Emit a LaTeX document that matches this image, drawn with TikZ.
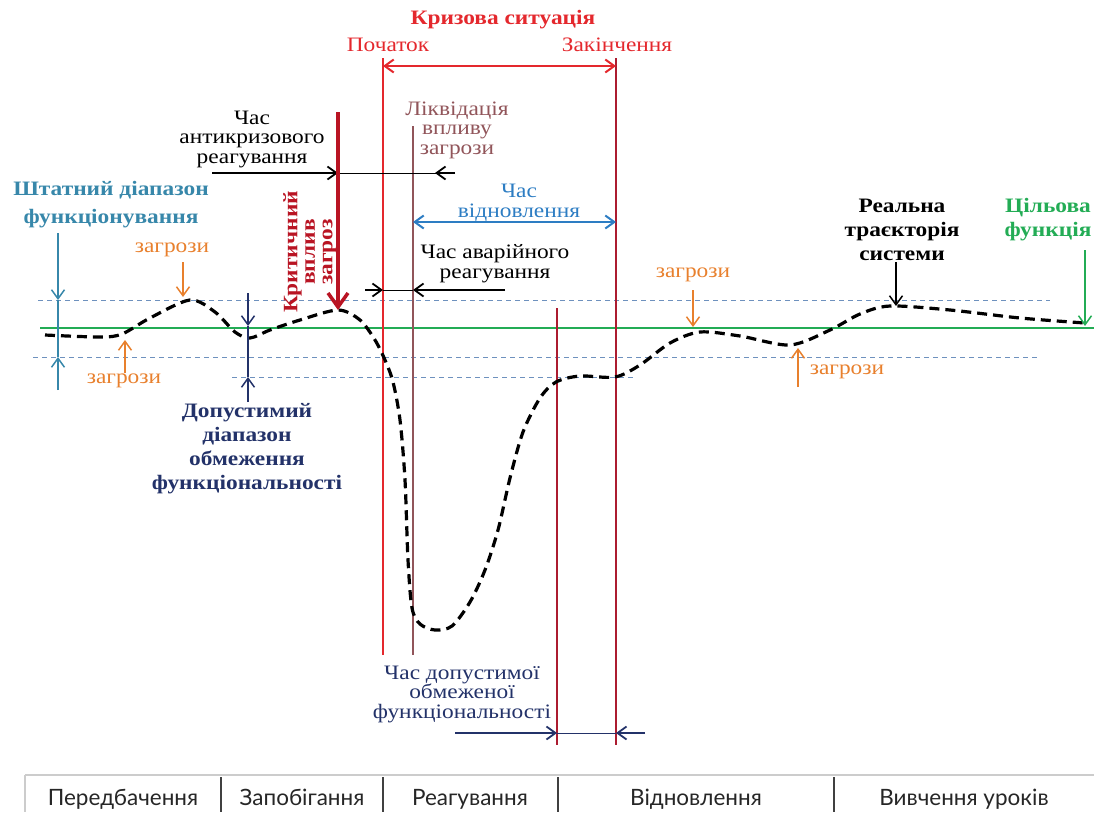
\documentclass[tikz,border=0pt]{standalone}
\usepackage{fontspec}
\setmainfont{Liberation Serif}[FakeStretch=1.14]
\newfontfamily\phasefont{Lato}
\usetikzlibrary{arrows.meta}

\definecolor{crisisred}{RGB}{228,40,45}
\definecolor{endred}{RGB}{172,28,48}
\definecolor{critred}{RGB}{185,20,35}
\definecolor{liqbrown}{RGB}{145,85,90}
\definecolor{threat}{RGB}{232,128,45}
\definecolor{normteal}{RGB}{55,135,170}
\definecolor{limitnavy}{RGB}{35,50,105}
\definecolor{recblue}{RGB}{45,125,195}
\definecolor{targetgreen}{RGB}{35,172,85}
\definecolor{bandblue}{RGB}{110,145,190}

\tikzset{
  lbl/.style={font=\fontsize{20.5}{19.5}\selectfont, align=center, inner sep=0pt},
  blbl/.style={lbl, font=\fontsize{20.5}{24}\selectfont\bfseries},
  tip/.style={-{Straight Barb[length=9pt,width=13pt]}},
  twotip/.style={{Straight Barb[length=9pt,width=13pt]}-{Straight Barb[length=9pt,width=13pt]}},
  band/.style={bandblue, line width=0.9pt, dash pattern=on 5pt off 4pt},
  traj/.style={line width=3.2pt, dash pattern=on 10pt off 6pt},
  phase/.style={font=\phasefont\fontsize{22.5}{24}\selectfont, text=black!85, inner sep=0pt, anchor=base},
}

\begin{document}
\begin{tikzpicture}[x=1pt,y=-1pt]
\useasboundingbox (0,0) rectangle (1094,812);

% bands and target function
\draw[band] (38,300) -- (1050,300); % upper limit
\draw[band] (33,357) -- (1040,357); % lower limit
\draw[band] (232,377) -- (635,377); % allowed limit
\draw[targetgreen, line width=2.2pt] (40,328) -- (1094,328); % target

% crisis lines
\draw[crisisred, line width=1.8pt] (383,58) -- (383,655); % start
\draw[endred, line width=2pt] (616,58) -- (616,745); % end
\draw[liqbrown, line width=1.8pt] (413,126) -- (413,655); % liquidation
\draw[endred, line width=2pt] (557,308) -- (557,745); % limited

% real trajectory
\draw[traj] plot[smooth, tension=0.5] coordinates {(45,335) (100,337) (122,334) (150,318) (190,300) (215,312) (235,332) (250,338) (270,330) (300,320) (338,310) (360,320) (375,340) (385,360) (393,382) (400,420) (405,480) (408,560) (412,608) (420,624) (435,630) (452,626) (470,602) (485,570) (498,530) (510,478) (523,432) (540,398) (556,382) (580,376) (615,377) (640,365) (670,343) (700,332) (740,336) (790,345) (830,330) (860,314) (890,306) (950,310) (1020,318) (1085,323)};

% crisis situation
\node[blbl, text=crisisred] (crisis) at (503,20) {Кризова ситуація};
\node[lbl, text=crisisred] (start) at (388,45) {Початок};
\node[lbl, text=crisisred] (finish) at (617,45) {Закінчення};
\draw[twotip, crisisred, line width=2pt] (383,66) -- (616,66);

% anti-crisis reaction
\node[lbl] (anti) at (252,139) {Час\\антикризового\\реагування};
\draw[tip, line width=1.8pt] (212,173) -- (338,173);
\draw[thin] (338,173) -- (455,173);
\draw[tip, line width=1.8pt] (455,173) -- (435,173);

\node[lbl, text=liqbrown] (liq) at (457,130) {Ліквідація\\впливу\\загрози};

% critical impact
\node[blbl, text=critred, rotate=90, font=\fontsize{20.5}{17.5}\selectfont\bfseries] (crit) at (310,252) {Критичний\\вплив\\загроз};
\draw[critred, line width=3.5pt, -{Straight Barb[length=14pt,width=20pt]}] (338,112) -- (338,310);

% recovery time
\node[lbl, text=recblue] (rec) at (519,203) {Час\\відновлення};
\draw[twotip, recblue, line width=2pt] (413,222) -- (616,222);

% emergency reaction
\node[lbl, font=\fontsize{20.5}{20}\selectfont] (emerg) at (495,264) {Час аварійного\\реагування};
\draw[tip, line width=1.8pt] (365,290) -- (383,290);
\draw[thin] (383,290) -- (413,290);
\draw[tip, line width=1.8pt] (505,290) -- (413,290);

% normal range
\node[blbl, text=normteal, font=\fontsize{20.5}{28}\selectfont\bfseries] (norm) at (111,205) {Штатний діапазон\\функціонування};
\draw[tip, normteal, line width=1.5pt] (58,233) -- (58,300);
\draw[normteal, line width=1.5pt] (58,300) -- (58,357);
\draw[tip, normteal, line width=1.5pt] (58,390) -- (58,357);

% allowed range
\node[blbl, text=limitnavy] (allow) at (247,449) {Допустимий\\діапазон\\обмеження\\функціональності};
\draw[tip, limitnavy, line width=1.5pt] (248,293) -- (248,326);
\draw[limitnavy, line width=1.5pt] (248,326) -- (248,377);
\draw[tip, limitnavy, line width=1.5pt] (248,402) -- (248,377);

% threats
\node[lbl, text=threat] (thrA) at (172,250) {загрози};
\draw[tip, threat, line width=1.5pt] (183,262) -- (183,297);
\node[lbl, text=threat] (thrB) at (124,381) {загрози};
\draw[tip, threat, line width=1.5pt] (125,373) -- (125,340);
\node[lbl, text=threat] (thrC) at (693,275) {загрози};
\draw[tip, threat, line width=1.5pt] (693,290) -- (693,327);
\node[lbl, text=threat] (thrD) at (847,372) {загрози};
\draw[tip, threat, line width=1.5pt] (798,387) -- (798,348);

% real trajectory and target labels
\node[blbl] (real) at (902,230) {Реальна\\траєкторія\\системи};
\draw[tip, line width=1.5pt] (896,262) -- (896,306);
\node[blbl, text=targetgreen] (target) at (1048,220) {Цільова\\функція};
\draw[tip, targetgreen, line width=1.5pt] (1085,250) -- (1085,326);

% limited functionality time
\node[lbl, text=limitnavy] (ltime) at (462,694) {Час допустимої\\обмеженої\\функціональності};
\draw[tip, limitnavy, line width=1.8pt] (455,733) -- (557,733);
\draw[thin, limitnavy] (557,733) -- (616,733);
\draw[tip, limitnavy, line width=1.8pt] (645,733) -- (616,733);

% phases table
\draw[black!20, line width=1.5pt] (25,775) -- (1094,775);
\draw[black!20, line width=1.5pt] (25,775) -- (25,812);
\foreach \sx in {221,383,558,834} \draw[black!75, line width=1.2pt] (\sx,777) -- (\sx,812);
\node[phase] (ph1) at (123,805) {Передбачення};
\node[phase] (ph2) at (302,805) {Запобігання};
\node[phase] (ph3) at (470,805) {Реагування};
\node[phase] (ph4) at (696,805) {Відновлення};
\node[phase] (ph5) at (964,805) {Вивчення уроків};

\end{tikzpicture}
\end{document}
